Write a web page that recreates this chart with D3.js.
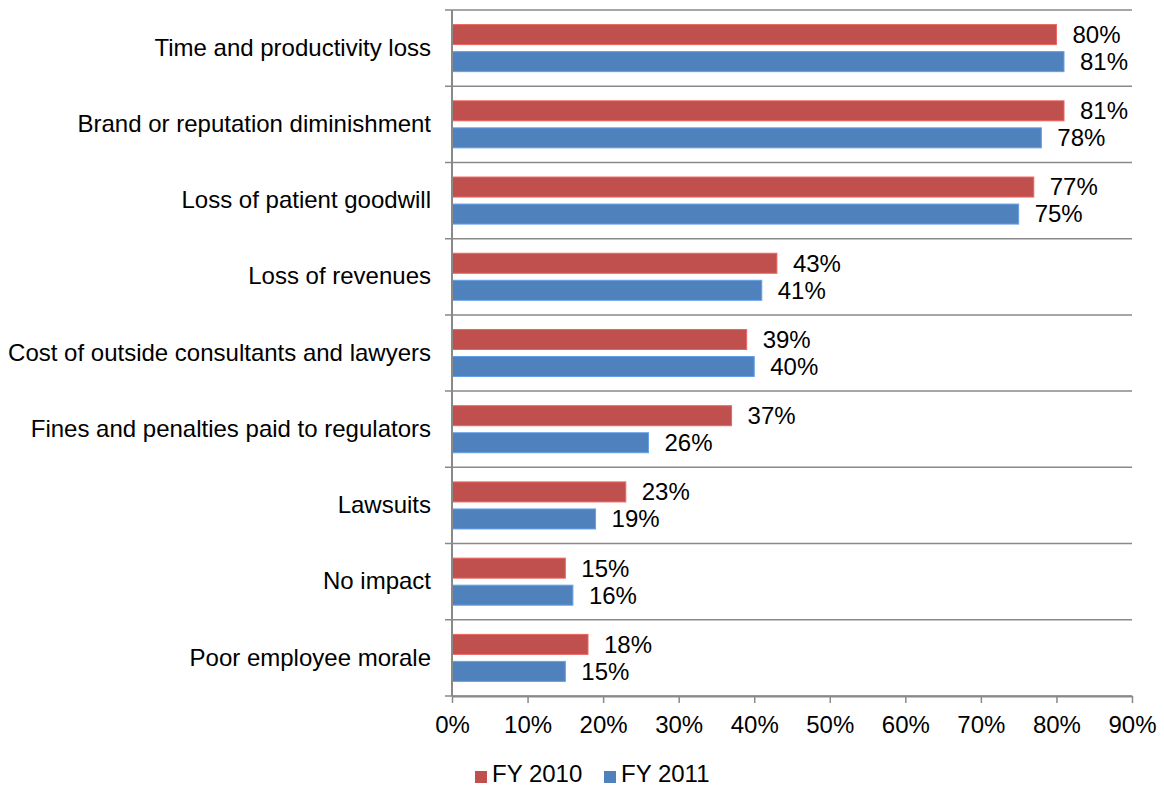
<!DOCTYPE html>
<html><head><meta charset="utf-8">
<script src="https://cdn.jsdelivr.net/npm/d3@7"></script>
<style>body{margin:0;background:#fff;} svg{display:block;font-family:"Liberation Sans",Arial,sans-serif;}</style>
</head><body><svg id="c" width="1164" height="788"></svg>
<script>
const categories = ["Time and productivity loss","Brand or reputation diminishment","Loss of patient goodwill","Loss of revenues","Cost of outside consultants and lawyers","Fines and penalties paid to regulators","Lawsuits","No impact","Poor employee morale"];
const seriesNames = ["FY 2010","FY 2011"];
const fy2010 = [80,81,77,43,39,37,23,15,18];
const fy2011 = [81,78,75,41,40,26,19,16,15];
const tickValues = [0,10,20,30,40,50,60,70,80,90];
const colors = ["#C0504D","#4F81BD"];

const svg = d3.select("#c");
const pLeft = 452, pRight = 1132, pTop = 10, pBottom = 696;
const FS = 24;
const x = d3.scaleLinear().domain([0,90]).range([pLeft,pRight]);
const y = d3.scaleBand().domain(categories).range([pTop,pBottom]).paddingInner(0).paddingOuter(0);
const inner = d3.scaleBand().domain(seriesNames).range([0,y.bandwidth()]).paddingInner(0.26).paddingOuter(0.54);
const grey = "#898989";

// gridlines (category separators)
const sepYs = d3.range(categories.length+1).map(i => pTop + i*y.step());
svg.append("g").selectAll("line").data(sepYs).join("line")
  .attr("x1", pLeft-7).attr("x2", pRight).attr("y1", d=>d).attr("y2", d=>d)
  .attr("stroke", grey).attr("stroke-width", 1.5);

// bars
const series = [fy2010, fy2011];
series.forEach((vals, si) => {
  const g = svg.append("g");
  g.selectAll("rect").data(vals).join("rect")
    .attr("x", x(0)).attr("y", (d,i)=> y(categories[i]) + inner(seriesNames[si]))
    .attr("width", d => x(d)-x(0)).attr("height", inner.bandwidth())
    .attr("fill", colors[si]).attr("stroke", d3.color(colors[si]).brighter(0.6)).attr("stroke-width",1);
  g.selectAll("text").data(vals).join("text")
    .attr("x", d => x(d)+16).attr("y", (d,i)=> y(categories[i]) + inner(seriesNames[si]) + inner.bandwidth()/2)
    .attr("dy","0.35em").attr("font-size",FS).attr("fill","#000").text(d=>d+"%");
});

// y axis
const yAxis = svg.append("g").attr("transform",`translate(${pLeft},0)`)
  .call(d3.axisLeft(y).tickSize(0).tickPadding(21));
yAxis.select(".domain").remove();
yAxis.append("line").attr("x1",0).attr("x2",0).attr("y1",pTop).attr("y2",pBottom).attr("stroke",grey).attr("stroke-width",2);
yAxis.selectAll("text").attr("font-size",FS).attr("fill","#000").attr("font-family",null);

// x axis
const xAxis = svg.append("g").attr("transform",`translate(0,${pBottom})`)
  .call(d3.axisBottom(x).tickValues(tickValues).tickFormat(d=>d+"%").tickSize(7).tickPadding(13).tickSizeOuter(0));
xAxis.select(".domain").attr("stroke",grey).attr("stroke-width",2);
xAxis.selectAll(".tick line").attr("stroke",grey).attr("stroke-width",1.5);
xAxis.selectAll("text").attr("font-size",FS).attr("fill","#000").attr("font-family",null);

// legend
const legX = [475, 604];
const leg = svg.append("g");
seriesNames.forEach((n,i)=>{
  leg.append("rect").attr("x",legX[i]).attr("y",771).attr("width",12).attr("height",12).attr("fill",colors[i]);
  leg.append("text").attr("x",legX[i]+17).attr("y",782).attr("font-size",FS).attr("fill","#000").text(n);
});
</script></body></html>
